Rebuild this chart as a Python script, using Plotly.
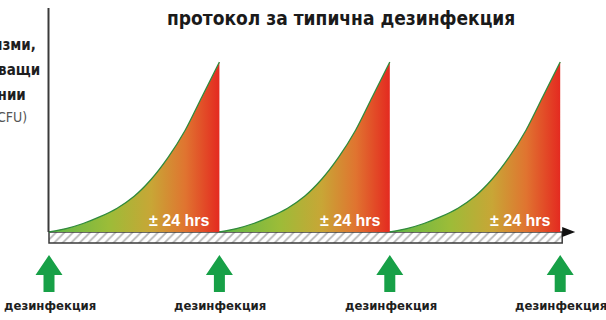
import plotly.graph_objects as go

# ---- data ----
disinfection_times = [0, 1, 2, 3]           # moments of disinfection (units of ~24 h)
growth_t = [0, 0.1, 0.2, 0.3, 0.4, 0.5, 0.6, 0.7, 0.8, 0.9, 1.0]   # time since disinfection
growth = [0, 0.02, 0.05, 0.09, 0.14, 0.21, 0.31, 0.44, 0.60, 0.80, 1.0]  # relative CFU
interval_label = "± 24 hrs"
event_label = "дезинфекция"
title_text = "протокол за типична дезинфекция"
ylabel_lines = ["микроорганизми,", "образуващи", "колонии", "(CFU)"]

# ---- geometry helpers (figure pixel <-> data) ----
W, H = 606, 320
X0PX, XUNIT = 49.0, 170.4     # pixel of t=0 and pixels per unit
Y0PX, YUNIT = 232.0, 170.0    # pixel of baseline and pixels per unit
xr = [-X0PX / XUNIT, (W - X0PX) / XUNIT]
yr = [-(H - Y0PX) / YUNIT, Y0PX / YUNIT]
def dx(px): return px / XUNIT
def dy(px): return px / YUNIT
def ypix(py): return (Y0PX - py) / YUNIT

COND = "DejaVu Sans Condensed"

fig = go.Figure()

# hatched time bar
bar_end = disinfection_times[-1] + dx(2)
bh = dy(11)
fig.add_trace(go.Scatter(
    x=[0, bar_end, bar_end, 0, 0], y=[0, 0, -bh, -bh, 0],
    mode="lines", fill="toself", fillcolor="white",
    fillpattern=dict(shape="/", fgcolor="#6a6a6a", bgcolor="white", size=6, solidity=0.3),
    line=dict(color="#3a3a3a", width=1.5), hoverinfo="skip", showlegend=False))

# growth curves
scale = [[0, "#5db648"], [0.35, "#9cbc38"], [0.6, "#c8a636"], [0.8, "#e07430"], [1, "#e42a20"]]
for s in disinfection_times[:-1]:
    fig.add_trace(go.Scatter(
        x=[s + t for t in growth_t], y=growth,
        mode="lines", line=dict(color="#2f8a3c", width=1.3, shape="spline", smoothing=0.6),
        fill="tozeroy",
        fillgradient=dict(type="horizontal", colorscale=scale, start=s, stop=s + 1),
        hoverinfo="skip", showlegend=False))
    fig.add_annotation(x=s + 1 - dx(8), y=ypix(220), xanchor="right", yanchor="middle",
                       text=f"<b>{interval_label}</b>", showarrow=False,
                       font=dict(family="Liberation Sans", size=16, color="white"))

shapes = []
# y axis line
shapes.append(dict(type="line", xref="x", yref="y", x0=dx(-0.5), x1=dx(-0.5),
                   y0=ypix(8), y1=0, line=dict(color="#3a3a3a", width=2)))
# arrowhead at end of time axis
ah = dy(5)
shapes.append(dict(type="path", xref="x", yref="y",
                   path=f"M {bar_end},{ah} L {bar_end + dx(13)},0 L {bar_end},{-ah} Z",
                   fillcolor="#111", line=dict(width=0)))
# green arrows at disinfection moments
for s in disinfection_times:
    hw, sw = dx(13.5), dx(5.5)
    yt, yb, ye = ypix(255), ypix(275), ypix(292)
    p = (f"M {s},{yt} L {s + hw},{yb} L {s + sw},{yb} L {s + sw},{ye} "
         f"L {s - sw},{ye} L {s - sw},{yb} L {s - hw},{yb} Z")
    shapes.append(dict(type="path", xref="x", yref="y", path=p,
                       fillcolor="#17a047", line=dict(width=0)))
    fig.add_annotation(x=s + dx(1), y=ypix(305), text=f"<b>{event_label}</b>", showarrow=False,
                       xanchor="center", yanchor="middle",
                       font=dict(family=COND, size=13, color="#1e1e1e"))

# title
fig.add_annotation(x=dx(341 - X0PX), y=ypix(18), text=f"<b>{title_text}</b>", showarrow=False,
                   xanchor="center", yanchor="middle",
                   font=dict(family=COND, size=19, color="#1a1a1a"))

# y label (cropped at the left edge, as in the reference)
ylab_pos = [(38, 45, 15, "#1e1e1e", True), (42, 70, 15, "#1e1e1e", True),
            (28, 95, 15, "#1e1e1e", True), (29, 117, 14, "#555", False)]
for line, (rx, cy, fs, col, bold) in zip(ylabel_lines, ylab_pos):
    fig.add_annotation(x=dx(rx - X0PX), y=ypix(cy), text=f"<b>{line}</b>" if bold else line,
                       showarrow=False, xanchor="right", yanchor="middle",
                       font=dict(family=COND, size=fs, color=col))

fig.update_layout(
    width=W, height=H, margin=dict(l=0, r=0, t=0, b=0),
    paper_bgcolor="white", plot_bgcolor="white", shapes=shapes,
    xaxis=dict(range=xr, visible=False, fixedrange=True),
    yaxis=dict(range=yr, visible=False, fixedrange=True),
    showlegend=False)

fig.write_html("out.html")
